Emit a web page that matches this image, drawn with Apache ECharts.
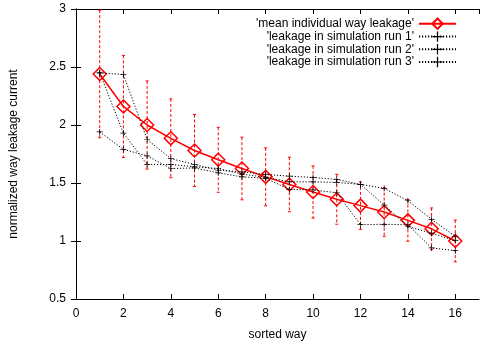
<!DOCTYPE html>
<html>
<head>
<meta charset="utf-8">
<script src="https://cdn.jsdelivr.net/npm/echarts@6/dist/echarts.min.js"></script>
<style>
  html, body { margin: 0; padding: 0; background: #fff; }
  #chart { width: 480px; height: 347px; }
</style>
</head>
<body>
<div id="chart"></div>
<script>
const ways = [1, 2, 3, 4, 5, 6, 7, 8, 9, 10, 11, 12, 13, 14, 15, 16];
const meanLeakage = [2.44, 2.16, 2.0, 1.885, 1.78, 1.70, 1.625, 1.553, 1.487, 1.422, 1.36, 1.305, 1.25, 1.178, 1.105, 1.0];
const meanError = [0.55, 0.44, 0.38, 0.34, 0.31, 0.28, 0.27, 0.25, 0.235, 0.225, 0.215, 0.205, 0.21, 0.18, 0.18, 0.18];
const run1 = [2.45, 2.435, 1.875, 1.71, 1.66, 1.61, 1.596, 1.574, 1.559, 1.548, 1.531, 1.488, 1.454, 1.347, 1.187, 1.04];
const run2 = [2.45, 1.93, 1.66, 1.66, 1.64, 1.625, 1.576, 1.55, 1.51, 1.51, 1.505, 1.488, 1.31, 1.125, 1.067, 1.003];
const run3 = [1.94, 1.79, 1.734, 1.625, 1.63, 1.588, 1.553, 1.54, 1.445, 1.44, 1.416, 1.141, 1.144, 1.14, 0.94, 0.917];
const seriesNames = [
  "'mean individual way leakage'",
  "'leakage in simulation run 1'",
  "'leakage in simulation run 2'",
  "'leakage in simulation run 3'",
];

const FONT = 'Liberation Sans, Arial, sans-serif';
const PLUS = 'path://M0,4.4H10V5.6H0Z M4.4,0H5.6V10H4.4Z';

const chart = echarts.init(document.getElementById('chart'), null, { renderer: 'canvas' });

function pair(values) {
  return ways.map((w, i) => [w, values[i]]);
}

function runSeries(name, values) {
  return {
    name: name,
    type: 'line',
    data: pair(values),
    symbol: PLUS,
    symbolSize: 6,
    lineStyle: { color: '#000', width: 1, type: [1.2, 1.8] },
    itemStyle: { color: '#000' },
    emphasis: { disabled: true },
    z: 4,
  };
}

const axisCommon = {
  type: 'value',
  axisLine: { show: true, lineStyle: { color: '#000', width: 1 } },
  axisTick: { show: true, inside: true, length: 5, lineStyle: { color: '#000' } },
  splitLine: { show: false },
};

chart.setOption({
  animation: false,
  backgroundColor: '#fff',
  grid: { left: 75, right: 1, top: 9, bottom: 48 },
  legend: {
    data: seriesNames,
    orient: 'vertical',
    align: 'right',
    right: 18,
    top: 12.5,
    itemWidth: 37,
    itemHeight: 13,
    itemGap: 0.7,
    textStyle: { color: '#000', fontSize: 12, fontFamily: FONT },
    selectedMode: false,
  },
  xAxis: [
    Object.assign({}, axisCommon, {
      min: 0, max: 17, interval: 2,
      name: 'sorted way',
      nameLocation: 'middle',
      nameGap: 30,
      nameTextStyle: { color: '#000', fontSize: 12, fontFamily: FONT },
      axisLabel: { color: '#000', fontSize: 12, fontFamily: FONT, margin: 9, showMaxLabel: false },
    }),
    Object.assign({}, axisCommon, {
      min: 0, max: 17, interval: 2, position: 'top',
      axisLabel: { show: false },
    }),
  ],
  yAxis: [
    Object.assign({}, axisCommon, {
      min: 0.5, max: 3, interval: 0.5,
      name: 'normalized way leakage current',
      nameLocation: 'middle',
      nameGap: 56,
      nameTextStyle: { color: '#000', fontSize: 12, fontFamily: FONT },
      axisLabel: { color: '#000', fontSize: 12, fontFamily: FONT, margin: 10 },
    }),
    Object.assign({}, axisCommon, {
      min: 0.5, max: 3, interval: 0.5, position: 'right',
      axisLabel: { show: false },
    }),
  ],
  series: [
    {
      name: 'error',
      type: 'custom',
      clip: true,
      z: 2,
      data: ways.map((w, i) => [w, meanLeakage[i] - meanError[i], meanLeakage[i] + meanError[i]]),
      renderItem: function (params, api) {
        const x = api.value(0);
        const lo = api.coord([x, api.value(1)]);
        const hi = api.coord([x, api.value(2)]);
        const cap = 1.5;
        const red = '#ff0000';
        return {
          type: 'group',
          children: [
            { type: 'line', shape: { x1: hi[0], y1: hi[1], x2: lo[0], y2: lo[1] },
              style: { stroke: red, lineWidth: 1, lineDash: [3, 2] } },
            { type: 'line', shape: { x1: hi[0] - cap, y1: hi[1], x2: hi[0] + cap, y2: hi[1] },
              style: { stroke: red, lineWidth: 1 } },
            { type: 'line', shape: { x1: lo[0] - cap, y1: lo[1], x2: lo[0] + cap, y2: lo[1] },
              style: { stroke: red, lineWidth: 1 } },
          ],
        };
      },
    },
    {
      name: seriesNames[0],
      type: 'line',
      data: pair(meanLeakage),
      symbol: 'diamond',
      symbolSize: 13,
      lineStyle: { color: '#ff0000', width: 1.5 },
      itemStyle: { color: 'transparent', borderColor: '#ff0000', borderWidth: 1.5 },
      emphasis: { disabled: true },
      z: 3,
    },
    runSeries(seriesNames[1], run1),
    runSeries(seriesNames[2], run2),
    runSeries(seriesNames[3], run3),
  ],
});
</script>
</body>
</html>
